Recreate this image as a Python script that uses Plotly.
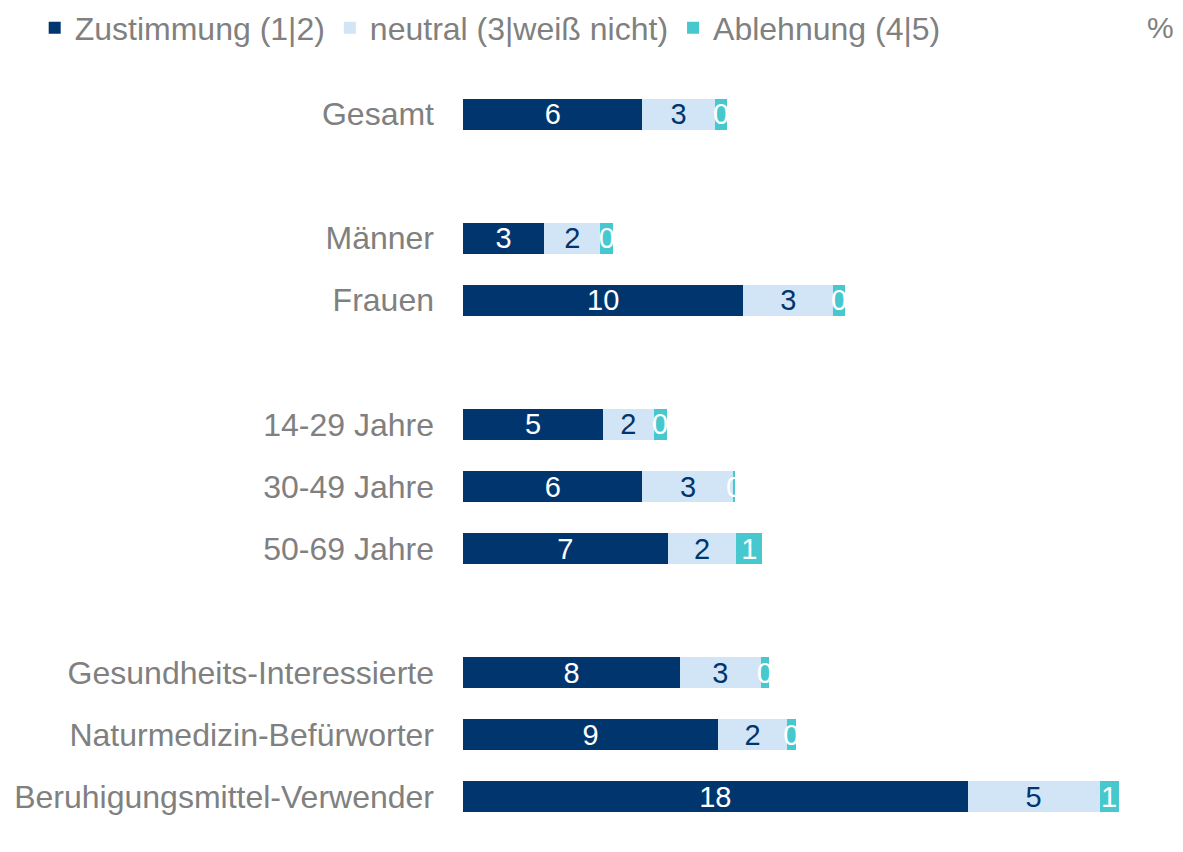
import plotly.graph_objects as go

# categories top to bottom, blank entries are the gaps between groups
groups = ["Gesamt", " ", "Männer", "Frauen", "  ",
          "14-29 Jahre", "30-49 Jahre", "50-69 Jahre", "   ",
          "Gesundheits-Interessierte", "Naturmedizin-Befürworter",
          "Beruhigungsmittel-Verwender"]

zustimmung = [6.4, None, 2.9, 10.0, None, 5.0, 6.4, 7.3, None, 7.75, 9.1, 18.0]
neutral = [2.57, None, 2.0, 3.2, None, 1.8, 3.25, 2.45, None, 2.86, 2.46, 4.7]
ablehnung = [0.46, None, 0.46, 0.43, None, 0.46, 0.05, 0.93, None, 0.3, 0.3, 0.68]

series_names = ["Zustimmung (1|2)", "neutral (3|weiß nicht)", "Ablehnung (4|5)"]
series_vals = [zustimmung, neutral, ablehnung]
bar_colors = ["#00366D", "#D2E5F7", "#47C8CE"]
label_colors = ["white", "#00366D", "white"]

fig = go.Figure()

for name, vals, col, lcol in zip(series_names, series_vals, bar_colors, label_colors):
    fig.add_trace(go.Bar(
        y=groups,
        x=vals,
        name=name,
        orientation="h",
        marker=dict(color=col, line=dict(width=0)),
        texttemplate="%{x:.0f}",
        textposition="inside",
        insidetextanchor="middle",
        textangle=0,
        textfont=dict(color=lcol, size=29, family="Liberation Sans, Arial"),
        cliponaxis=False,
        hoverinfo="skip",
    ))

# page has an 8px body margin, so the figure is a bit smaller than the window
fig.update_layout(
    barmode="stack",
    bargap=0.5,
    width=1175,
    height=844,
    margin=dict(l=455, r=19, t=75, b=24, autoexpand=False),
    plot_bgcolor="white",
    paper_bgcolor="white",
    font=dict(family="Liberation Sans, Arial", color="#808080", size=31),
    uniformtext=dict(minsize=29, mode="show"),
    showlegend=True,
    legend=dict(
        orientation="h",
        x=-0.611, xref="paper", y=1.074, yref="paper",
        xanchor="left", yanchor="middle",
        font=dict(size=32, color="#808080"),
        traceorder="normal",
        itemclick=False,
        itemwidth=30,
        tracegroupgap=0,
    ),
)

fig.update_xaxes(range=[0, 25], visible=False, fixedrange=True)
fig.update_yaxes(
    autorange="reversed",
    showgrid=False,
    showline=False,
    ticks="",
    ticklabelstandoff=28,
    tickfont=dict(size=32, color="#808080"),
    fixedrange=True,
)

# percent sign top right
fig.add_annotation(
    text="%", xref="paper", yref="paper", x=1.0, y=1.074, xshift=12,
    xanchor="right", yanchor="middle", showarrow=False,
    font=dict(size=30, color="#808080"),
)

fig.write_html("out.html")
